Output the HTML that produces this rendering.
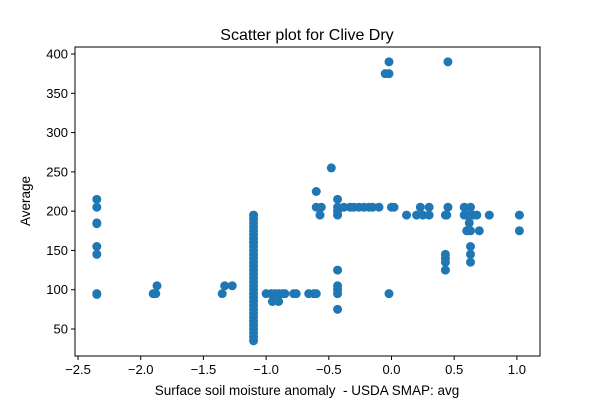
<!DOCTYPE html>
<html><head><meta charset="utf-8"><style>
body{margin:0;background:#fff;}
svg{display:block;font-family:"Liberation Sans","DejaVu Sans",sans-serif;}
</style></head><body>
<svg id="chart" width="600" height="400">
<rect width="600" height="400" fill="#fff"/>
<text x="307" y="40" font-size="16" text-anchor="middle">Scatter plot for Clive Dry</text>
<g id="points"></g>
<g id="axes"></g>
<text x="307" y="395" font-size="13.5" text-anchor="middle" style="white-space:pre">Surface soil moisture anomaly  - USDA SMAP: avg</text>
<text transform="translate(30,201) rotate(-90)" font-size="13.5" text-anchor="middle">Average</text>
</svg>
<script>
const xs = [-2.35,-2.35,-2.35,-2.35,-2.35,-2.35,-2.35,-2.35,
 -1.9,-1.88,-1.87,-1.35,-1.33,-1.27,
 -1.0,-0.96,-0.93,-0.9,-0.87,-0.85,-0.78,-0.76,-0.66,-0.62,-0.6,-0.95,-0.9,
 -0.43,-0.43,-0.43,-0.43,-0.43,-0.43,-0.43,-0.43,-0.43,
 -0.6,-0.6,-0.57,-0.56,-0.48,
 -0.38,-0.33,-0.3,-0.26,-0.22,-0.18,-0.15,-0.1,0.0,0.02,
 0.12,0.2,0.23,0.25,0.3,0.3,
 0.43,0.45,0.44,0.43,0.43,0.43,0.43,0.45,
 -0.05,-0.02,-0.02,-0.02,
 0.58,0.6,0.62,0.63,0.58,0.6,0.63,0.65,0.63,0.63,0.63,0.7,0.78,0.68,1.02,1.02];
const ys = [215,205,185,184,155,145,95,94,
 95,95,105,95,105,105,
 95,95,95,95,95,95,95,95,95,95,95,85,85,
 125,105,100,95,75,195,205,215,200,
 225,205,195,205,255,
 205,205,205,205,205,205,205,205,205,205,
 195,195,205,195,205,195,
 195,205,195,145,140,135,125,390,
 375,375,390,95,
 205,195,185,175,195,175,205,195,155,145,135,175,195,195,195,175];
const xTicks=[-2.5,-2.0,-1.5,-1.0,-0.5,0.0,0.5,1.0];
const yTicks=[50,100,150,200,250,300,350,400];
const L=75,R=540,T=47,B=356;
const sx=v=>391.5+v*125.4;
const sy=v=>329-(v-50)*0.7857;
const NS="http://www.w3.org/2000/svg";
const pg=document.getElementById('points');
const stackX=[],stackY=[];
for(let v=35;v<=195;v+=5){stackX.push(-1.1);stackY.push(v);}
const allX=xs.concat(stackX), allY=ys.concat(stackY);
allX.forEach((x,i)=>{const c=document.createElementNS(NS,'circle');
c.setAttribute('cx',sx(x));c.setAttribute('cy',sy(allY[i]));c.setAttribute('r',4.5);c.setAttribute('fill','#1f77b4');


pg.appendChild(c);});
const ag=document.getElementById('axes');
let h=`<rect x="${L}" y="${T}" width="${R-L}" height="${B-T}" fill="none" stroke="#000" stroke-width="1"/>`;
xTicks.forEach(t=>{const x=sx(t);h+=`<line x1="${x}" y1="${B}" x2="${x}" y2="${B+4}" stroke="#000"/><text x="${x}" y="${B+18}" font-size="13" text-anchor="middle">${t.toFixed(1).replace('-','\u2212')}</text>`;});
yTicks.forEach(t=>{const y=sy(t);h+=`<line x1="${L-4}" y1="${y}" x2="${L}" y2="${y}" stroke="#000"/><text x="${L-7}" y="${y+4.5}" font-size="13" text-anchor="end">${t}</text>`;});
ag.innerHTML=h;
</script>
</body></html>
